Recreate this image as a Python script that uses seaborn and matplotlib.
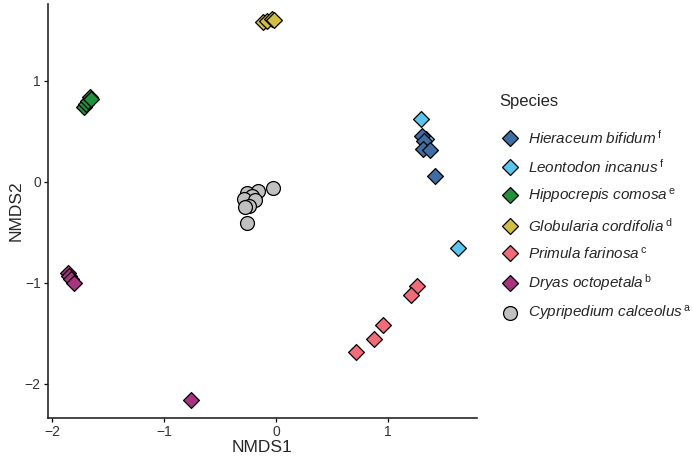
import matplotlib
matplotlib.use("Agg")
import matplotlib.pyplot as plt
import seaborn as sns
import pandas as pd

# NMDS scores, per species
hier_x = [1.30, 1.32, 1.31, 1.37, 1.42]
hier_y = [0.45, 0.40, 0.33, 0.32, 0.06]
leon_x = [1.29, 1.34, 1.62]
leon_y = [0.62, 0.42, -0.66]
hipp_x = [-1.72, -1.70, -1.68, -1.66, -1.65]
hipp_y = [0.74, 0.77, 0.80, 0.84, 0.82]
glob_x = [-0.12, -0.08, -0.04, -0.02]
glob_y = [1.58, 1.59, 1.61, 1.60]
prim_x = [1.26, 1.20, 0.95, 0.87, 0.71]
prim_y = [-1.03, -1.12, -1.42, -1.56, -1.69]
dryas_x = [-1.86, -1.85, -1.83, -1.81, -0.76]
dryas_y = [-0.90, -0.93, -0.96, -1.00, -2.16]
cyp_x = [-0.03, -0.16, -0.26, -0.22, -0.29, -0.19, -0.24, -0.28, -0.26]
cyp_y = [-0.06, -0.09, -0.11, -0.14, -0.17, -0.18, -0.24, -0.25, -0.41]

species = ["Hieraceum bifidum", "Leontodon incanus", "Hippocrepis comosa",
           "Globularia cordifolia", "Primula farinosa", "Dryas octopetala",
           "Cypripedium calceolus"]
letters = ["f", "f", "e", "d", "c", "b", "a"]
colors = ["#3F6EA6", "#5BC5EE", "#23903A", "#D2BE45", "#F26B7B", "#A8337F", "#C0C0C0"]
markers = ["D", "D", "D", "D", "D", "D", "o"]

xs = [hier_x, leon_x, hipp_x, glob_x, prim_x, dryas_x, cyp_x]
ys = [hier_y, leon_y, hipp_y, glob_y, prim_y, dryas_y, cyp_y]

rows = []
for sp, x, y in zip(species, xs, ys):
    for a, b in zip(x, y):
        rows.append({"Species": sp, "NMDS1": a, "NMDS2": b})
df = pd.DataFrame(rows)

sns.set_theme(style="ticks")
plt.rcParams["font.family"] = ["Liberation Sans", "DejaVu Sans"]
plt.rcParams["mathtext.fontset"] = "custom"
plt.rcParams["mathtext.rm"] = "Liberation Sans"
plt.rcParams["mathtext.it"] = "Liberation Sans:italic"

fig = plt.figure(figsize=(6.92, 4.61), dpi=100)
ax = fig.add_axes([0.069, 0.093, 0.62, 0.898])

pal = dict(zip(species, colors))
mk = dict(zip(species, markers))
sizes = {sp: (100 if m == "o" else 65) for sp, m in mk.items()}

for sp in species[::-1]:
    sub = df[df["Species"] == sp]
    sns.scatterplot(data=sub, x="NMDS1", y="NMDS2", color=pal[sp], marker=mk[sp],
                    s=sizes[sp], edgecolor="black", linewidth=0.9, ax=ax,
                    legend=False, zorder=3)

ax.set_xlim(-2.04, 1.79)
ax.set_ylim(-2.34, 1.76)
ax.set_xticks([-2, -1, 0, 1])
ax.set_yticks([-2, -1, 0, 1])
ax.set_xticklabels(["\u22122", "\u22121", "0", "1"])
ax.set_yticklabels(["\u22122", "\u22121", "0", "1"])
ax.tick_params(labelsize=10, length=3, width=0.9, color="black", labelcolor="#333333", pad=2)
ax.set_xlabel("NMDS1", fontsize=12.5, labelpad=1)
ax.set_ylabel("NMDS2", fontsize=12.5, labelpad=1)
for side in ["left", "bottom"]:
    ax.spines[side].set_linewidth(1.2)
sns.despine(ax=ax)

handles = []
labels = []
for sp, c, m, l in zip(species, colors, markers, letters):
    h = plt.Line2D([], [], linestyle="", marker=m, markersize=(10 if m == "o" else 8),
                   markerfacecolor=c, markeredgecolor="black", markeredgewidth=0.9)
    handles.append(h)
    labels.append(r"$\mathit{" + sp.replace(" ", r"\ ") + r"}\,^{\mathrm{" + l + "}}$")

leg = fig.legend(handles, labels, title="Species", loc="upper left",
                 bbox_to_anchor=(0.712, 0.81), frameon=False, fontsize=11,
                 title_fontsize=12, labelspacing=0.72, handletextpad=0.5,
                 handlelength=1.4, borderaxespad=0)
leg._legend_box.align = "left"
leg._legend_box.sep = 14.5

fig.savefig("out.png", dpi=100)
